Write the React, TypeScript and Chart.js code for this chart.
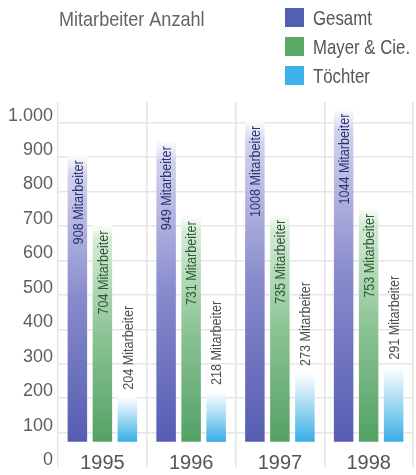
import React, { useEffect, useRef } from "react";
import { Chart, registerables } from "chart.js";

Chart.register(...registerables);

// ---- data ----
const years = ["1995", "1996", "1997", "1998"];
const gesamt = [908, 949, 1008, 1044];
const mayer = [704, 731, 735, 753];
const toechter = [204, 218, 273, 291];
const seriesNames = ["Gesamt", "Mayer & Cie.", "Töchter"];
const yTickValues = [0, 100, 200, 300, 400, 500, 600, 700, 800, 900, 1000];
const chartTitle = "Mitarbeiter Anzahl";
const unitLabel = "Mitarbeiter";

const BAR_BASE = 73;
const Y_MAX = 1060;

const FONT = "'Liberation Sans', Arial, sans-serif";

const styles = [
  { solid: "#5360b2", stops: ["#565cb2", "#888bcc", "#d2d2ee"], text: "#2d3575", inside: true },
  { solid: "#5ca866", stops: ["#54a165", "#8cc495", "#d5ebd6"], text: "#2f5a37", inside: true },
  { solid: "#3db2ea", stops: ["#38ade6", "#9fd8f2", "#f3fafd"], text: "#505050", inside: false },
];

function fmt(v: number): string {
  if (v >= 1000) return `${Math.floor(v / 1000)}.${String(v % 1000).padStart(3, "0")}`;
  return String(v);
}

function gradientFor(idx: number) {
  return (c: any) => {
    const chart = c.chart;
    const st = styles[idx];
    if (!chart.chartArea || c.raw == null) return st.solid;
    const y = chart.scales.y;
    const top = y.getPixelForValue(c.raw);
    const bot = y.getPixelForValue(BAR_BASE);
    const g = chart.ctx.createLinearGradient(0, bot, 0, top);
    g.addColorStop(0, st.stops[0]);
    g.addColorStop(0.5, st.stops[1]);
    g.addColorStop(0.93, st.stops[2]);
    g.addColorStop(1, "#ffffff");
    return g;
  };
}

// condensed text helper (horizontal squeeze)
function condensedText(ctx: any, text: string, x: number, y: number, size: number, squeeze: number, color: string) {
  ctx.save();
  ctx.translate(x, y);
  ctx.scale(squeeze, 1);
  ctx.font = `${size}px ${FONT}`;
  ctx.fillStyle = color;
  ctx.textAlign = "left";
  ctx.textBaseline = "middle";
  ctx.fillText(text, 0, 0);
  ctx.restore();
}

const valueLabels = {
  id: "valueLabels",
  afterDatasetsDraw(chart: any) {
    const ctx = chart.ctx;
    chart.data.datasets.forEach((ds: any, di: number) => {
      const meta = chart.getDatasetMeta(di);
      const st = styles[di];
      meta.data.forEach((bar: any, i: number) => {
        const v = ds.data[i];
        const { x, y } = bar.getProps(["x", "y"], true);
        ctx.save();
        ctx.translate(x + 1, st.inside ? y + 6 : y - 7);
        ctx.rotate(-Math.PI / 2);
        ctx.scale(0.84, 1);
        ctx.font = `15px ${FONT}`;
        ctx.fillStyle = st.text;
        ctx.textAlign = st.inside ? "right" : "left";
        ctx.textBaseline = "middle";
        ctx.fillText(`${v} ${unitLabel}`, 0, 0);
        ctx.restore();
      });
    });
  },
};

const header = {
  id: "header",
  afterDraw(chart: any) {
    const ctx = chart.ctx;
    condensedText(ctx, chartTitle, 59, 20, 21, 0.86, "#646464");
    seriesNames.forEach((name, i) => {
      const top = 8 + i * 29;
      ctx.save();
      ctx.fillStyle = styles[i].solid;
      ctx.fillRect(285, top, 19, 19);
      ctx.restore();
      condensedText(ctx, name, 313, top + 11, 21, 0.8, "#555555");
    });
  },
};

export default function App() {
  const ref = useRef<HTMLCanvasElement | null>(null);

  useEffect(() => {
    if (!ref.current) return;
    const seriesData = [gesamt, mayer, toechter];
    const chart = new Chart(ref.current, {
      type: "bar",
      data: {
        labels: years,
        datasets: seriesNames.map((name, i) => ({
          label: name,
          data: seriesData[i],
          base: BAR_BASE,
          backgroundColor: gradientFor(i),
          borderWidth: 0,
          categoryPercentage: 0.845,
          barPercentage: 0.78,
        })),
      },
      options: {
        responsive: false,
        animation: false,
        devicePixelRatio: 1,
        layout: { padding: { top: 102, right: 3, bottom: 8, left: 0 } },
        plugins: {
          legend: { display: false },
          tooltip: { enabled: false },
          title: { display: false },
        },
        scales: {
          x: {
            grid: { color: "#e3e3e3", lineWidth: 1.5, drawTicks: false, offset: true },
            border: { display: false },
            ticks: { color: "#555555", font: { family: FONT, size: 20 }, padding: -8, mirror: true },
          },
          y: {
            min: 0,
            max: Y_MAX,
            afterBuildTicks: (s: any) => {
              s.ticks = yTickValues.map((v) => ({ value: v }));
            },
            afterFit: (s: any) => {
              s.width = 58;
              s.paddingTop = 0;
              s.paddingBottom = 0;
            },
            grid: {
              color: (c: any) => (c.tick && c.tick.value === 0 ? "rgba(0,0,0,0)" : "#e6e6e6"),
              lineWidth: 1.5,
              drawTicks: false,
            },
            border: { display: false },
            ticks: {
              color: "#5e5e5e",
              font: { family: FONT, size: 18 },
              padding: 5,
              labelOffset: -7,
              callback: (v: any) => fmt(Number(v)),
            },
          },
        },
      },
      plugins: [valueLabels, header],
    });
    return () => chart.destroy();
  }, []);

  return (
    <div style={{ position: "absolute", left: 0, top: 0, width: 416, height: 475, background: "#fff" }}>
      <canvas ref={ref} width={416} height={475} style={{ display: "block" }} />
    </div>
  );
}
